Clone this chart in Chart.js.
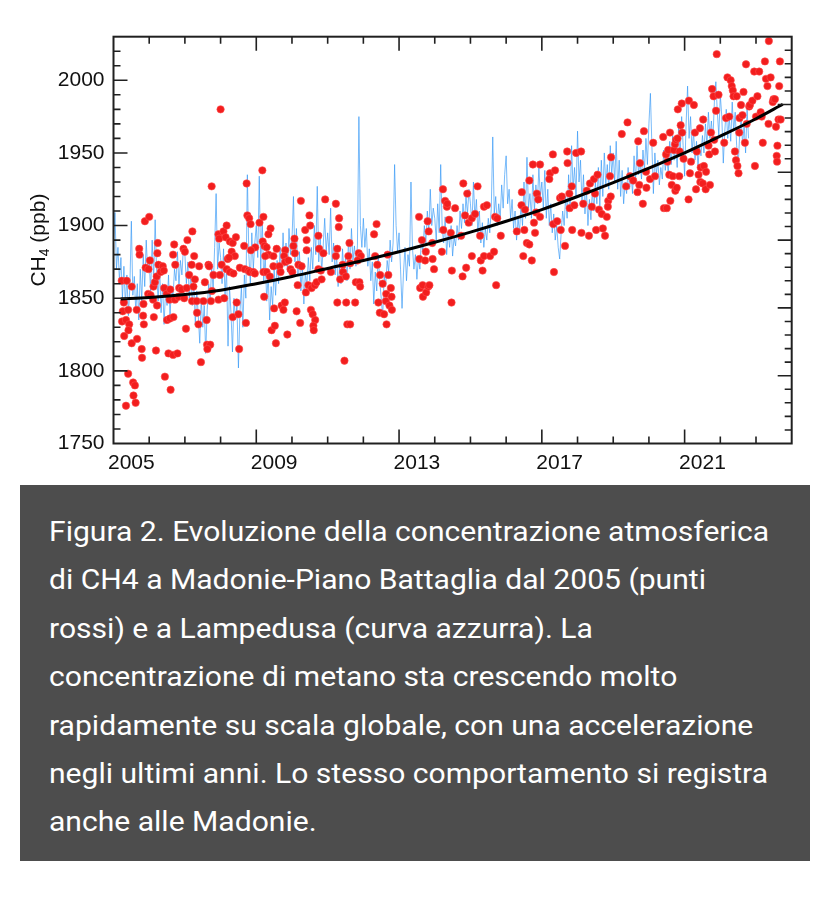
<!DOCTYPE html>
<html lang="it">
<head>
<meta charset="utf-8">
<title>CH4 Madonie - Lampedusa</title>
<script src="https://cdn.jsdelivr.net/npm/chart.js@4.4.1/dist/chart.umd.min.js"></script>
<style>
  html, body { margin: 0; padding: 0; background: #fff; }
  #wrap { position: relative; width: 840px; height: 900px; overflow: hidden; }
  #chartBox { position: absolute; left: 0; top: 0; width: 840px; height: 480px; }
  #caption { position: absolute; left: 20px; top: 485px; width: 790px; height: 376px; background: #4d4d4d; }
  #captionText { position: absolute; left: 29px; top: 23px; color: #fff; font-family: Roboto, "Open Sans", sans-serif;
    font-size: 28px; line-height: 48.4px; white-space: nowrap; transform-origin: 0 0; }
  #captionText div { width: max-content; }
</style>
</head>
<body>
<div id="wrap">
  <div id="chartBox"><canvas id="chart"></canvas></div>
  <div id="caption">
    <div id="captionText">
      <div>Figura 2. Evoluzione della concentrazione atmosferica</div>
      <div>di CH4 a Madonie-Piano Battaglia dal 2005 (punti</div>
      <div>rossi) e a Lampedusa (curva azzurra). La</div>
      <div>concentrazione di metano sta crescendo molto</div>
      <div>rapidamente su scala globale, con una accelerazione</div>
      <div>negli ultimi anni. Lo stesso comportamento si registra</div>
      <div>anche alle Madonie.</div>
    </div>
  </div>
</div>
<script>
// ── Dati ──
const X_MIN = 2005, X_MAX = 2024;
const Y_MIN = 1750, Y_MAX = 2030;
const xLabelYears = [2005, 2009, 2013, 2017, 2021];
const yTickValues = [1750, 1800, 1850, 1900, 1950, 2000];

// Lampedusa (curva azzurra): 24 valori per anno, da gennaio 2005
const lampStart = 2005;
const lampPerYear = 24;
const lampPpb = [
  1888,1909,1870,1885,1862,1878,1850,1872,1845,1866,1838,1858,1903,1852,1865,1840,1860,1835,1870,1848,1880,1858,1890,1868,
  1875,1855,1890,1862,1904,1868,1848,1872,1840,1860,1832,1855,1845,1866,1838,1858,1850,1870,1862,1882,1858,1876,1866,1885,
  1880,1860,1875,1850,1868,1845,1862,1832,1855,1838,1819,1850,1830,1845,1812,1842,1860,1848,1872,1855,1885,1922,1870,1888,
  1878,1860,1884,1852,1870,1817,1858,1840,1813,1850,1835,1845,1802,1840,1858,1830,1866,1850,1935,1880,1860,1895,1870,1888,
  1900,1878,1934,1870,1905,1862,1880,1848,1866,1835,1858,1845,1870,1852,1876,1860,1885,1866,1895,1872,1888,1868,1898,1880,
  1890,1920,1875,1898,1866,1882,1855,1872,1846,1868,1858,1878,1862,1885,1870,1900,1880,1927,1875,1892,1868,1886,1905,1882,
  1895,1880,1912,1875,1888,1866,1880,1858,1872,1860,1884,1866,1878,1862,1890,1870,1898,1876,1886,1872,1886,1975,1900,1885,
  1905,1885,1898,1872,1884,1862,1875,1846,1868,1855,1880,1862,1850,1837,1866,1858,1876,1868,1890,1875,1888,1942,1900,1882,
  1895,1870,1843,1868,1885,1862,1880,1872,1930,1885,1870,1880,1863,1878,1870,1890,1882,1900,1888,1910,1895,1925,1900,1912,
  1905,1890,1915,1895,1942,1898,1888,1906,1880,1895,1885,1900,1879,1892,1886,1900,1890,1910,1898,1915,1902,1920,1908,1925,
  1915,1900,1930,1905,1918,1895,1910,1888,1902,1885,1898,1890,1905,1895,1912,1961,1908,1920,1900,1915,1905,1928,1912,1935,
  1948,1915,1925,1905,1918,1898,1910,1890,1905,1895,1915,1900,1930,1905,1947,1912,1922,1905,1935,1910,1928,1915,1940,1920,
  1930,1912,1938,1905,1925,1900,1915,1895,1908,1890,1900,1885,1877,1895,1910,1900,1920,1905,1935,1912,1955,1925,1940,1920,
  1965,1930,1945,1915,1935,1908,1925,1900,1918,1904,1925,1910,1930,1915,1940,1913,1945,1920,1950,1928,1942,1925,1955,1935,
  1950,1930,1958,1925,1945,1920,1938,1915,1930,1922,1940,1925,1935,1922,1948,1930,1955,1935,1945,1932,1952,1938,1960,1942,
  1970,1991,1955,1922,1950,1935,1945,1928,1940,1932,1952,1938,1948,1935,1958,1942,1962,1945,1955,1940,1968,1950,1975,1955,
  1934,1970,1996,1960,1975,1950,1965,1945,1958,1941,1955,1948,1962,1950,1970,1955,1978,1960,1972,1958,1985,1999,1978,1962,
  1990,1975,1943,1965,1980,1960,1975,1958,1985,1965,1978,1955,1941,1962,1975,1955,1970,1950,1980,1960
];

// Madonie (punti rossi): data decimale e ppb
const madYear = [
  2005.23,2005.37,2005.51,2005.29,2005.26,2005.41,2005.24,2005.35,2005.44,2005.30,2005.42,2005.51,2005.41,2005.55,2005.60,2005.56,
  2005.35,2005.62,2005.65,2005.72,2005.73,2005.66,2005.79,2005.80,2005.83,2005.85,2005.84,2005.90,2005.98,2005.97,2006.04,2006.12,
  2006.16,2006.21,2006.02,2006.23,2006.26,2006.32,2006.38,2006.41,2006.11,2006.22,2006.13,2006.42,2006.49,2006.50,2006.58,2006.68,
  2006.44,2006.60,2006.19,2006.54,2006.67,2006.79,2006.59,2006.57,2006.72,2006.67,2006.73,2006.82,2006.84,2006.91,2006.98,2006.96,
  2007.00,2007.05,2007.03,2007.12,2007.19,2007.26,2007.28,2007.24,2007.20,2007.33,2007.40,2007.34,2007.38,2007.45,2007.52,2007.56,
  2007.61,2007.66,2007.68,2007.73,2007.76,2007.62,2007.71,2007.63,2007.80,2007.94,2007.98,2008.03,2008.10,2008.17,2008.20,2008.26,
  2008.31,2008.34,2008.36,2008.40,2008.45,2008.50,2008.52,2008.54,2008.68,2008.71,2008.78,2008.82,2008.92,2008.96,2008.97,2005.88,
  2006.00,2006.24,2006.70,2007.07,2007.21,2007.75,2007.94,2007.96,2008.00,2008.08,2008.17,2008.14,2008.24,2008.26,2008.34,2008.43,
  2008.66,2008.73,2008.75,2008.80,2008.84,2008.85,2009.09,2009.17,2009.20,2009.18,2009.23,2009.29,2009.34,2009.40,2009.57,2009.34,
  2009.48,2009.81,2009.78,2010.04,2010.07,2010.08,2010.25,2010.37,2010.41,2010.49,2010.51,2010.74,2010.76,2010.88,2010.93,2011.23,
  2011.27,2011.32,2011.31,2011.61,2011.58,2011.87,2011.93,2012.30,2012.37,2012.68,2009.25,2009.20,2009.29,2009.38,2009.22,2009.48,
  2009.65,2009.68,2009.81,2009.90,2009.96,2010.01,2010.18,2010.27,2009.50,2009.43,2009.52,2009.55,2009.71,2009.76,2009.80,2009.87,
  2010.13,2010.16,2010.23,2010.39,2010.46,2010.41,2010.53,2010.58,2010.65,2010.60,2010.61,2010.55,2010.64,2010.69,2010.74,2010.81,
  2010.83,2011.09,2011.23,2011.27,2011.35,2011.42,2011.43,2011.51,2011.52,2011.55,2011.63,2011.47,2011.63,2011.77,2011.79,2011.89,
  2011.91,2011.84,2012.33,2012.39,2012.42,2012.47,2012.46,2012.54,2012.58,2012.64,2012.63,2012.70,2012.73,2012.77,2012.79,2012.80,
  2012.65,2013.57,2013.59,2013.66,2013.67,2013.73,2013.75,2013.76,2013.82,2013.85,2013.94,2013.98,2014.20,2014.48,2014.47,2014.78,
  2014.88,2015.04,2015.29,2015.34,2015.38,2015.55,2015.66,2015.72,2016.48,2016.58,2016.65,2016.72,2013.56,2013.64,2013.80,2013.83,
  2013.93,2014.23,2014.24,2014.29,2014.34,2014.35,2014.40,2014.45,2014.57,2014.74,2014.80,2014.85,2014.91,2014.95,2015.04,2015.13,
  2015.20,2015.27,2015.38,2015.46,2015.69,2015.75,2015.85,2016.30,2016.44,2016.51,2016.43,2016.53,2016.65,2016.75,2016.78,2016.81,
  2016.86,2016.90,2016.95,2016.84,2016.95,2017.23,2017.31,2017.37,2017.21,2017.32,2017.43,2017.53,2017.51,2017.56,2017.65,2017.71,
  2017.72,2017.77,2017.78,2017.84,2017.85,2017.91,2017.96,2018.10,2018.11,2018.16,2018.26,2018.32,2018.35,2018.40,2018.46,2018.49,
  2018.56,2018.52,2018.60,2018.68,2018.71,2018.77,2018.82,2018.86,2018.85,2018.91,2018.93,2018.94,2019.24,2019.36,2019.40,2019.47,
  2019.56,2019.68,2019.73,2019.70,2019.75,2019.83,2019.86,2019.92,2019.93,2020.03,2020.12,2020.17,2020.40,2020.42,2020.48,2020.50,
  2020.54,2020.52,2020.57,2020.59,2020.60,2020.64,2020.67,2020.70,2020.73,2020.74,2020.76,2020.78,2020.80,2020.81,2020.85,2020.86,
  2020.89,2020.92,2020.93,2020.97,2021.11,2021.12,2021.15,2021.18,2021.29,2021.26,2021.32,2021.34,2021.39,2021.43,2021.44,2021.45,
  2021.51,2021.52,2021.54,2021.59,2021.60,2021.67,2021.69,2021.71,2021.74,2021.77,2021.81,2021.83,2021.85,2021.88,2021.90,2021.95,
  2022.11,2022.16,2022.20,2022.25,2022.29,2022.32,2022.35,2022.37,2022.41,2022.44,2022.46,2022.48,2022.51,2022.53,2022.54,2022.58,
  2022.62,2022.65,2022.69,2022.72,2022.74,2022.81,2022.83,2022.90,2022.95,2022.97,2023.00,2023.04,2023.09,2023.13,2023.16,2023.19,
  2023.25,2023.28,2023.32,2023.35,2023.36,2023.41,2023.47,2023.49,2023.53,2023.56,2023.58,2023.59,2023.60,2023.63,2023.65,2023.67,
  2023.69,2017.34
];
const madPpb = [
  1862,1862,1858,1847,1841,1842,1834,1835,1832,1824,1828,1819,1798,1792,1790,1783,
  1776,1778,1842,1884,1880,1822,1815,1809,1838,1832,1846,1871,1870,1853,1852,1858,
  1861,1865,1876,1881,1873,1868,1872,1869,1849,1845,1837,1857,1853,1835,1836,1837,
  1796,1787,1814,1812,1811,1812,1856,1849,1849,1880,1873,1851,1857,1856,1850,1884,
  1882,1857,1829,1866,1873,1879,1863,1858,1848,1848,1872,1840,1832,1806,1848,1861,
  1835,1873,1872,1848,1855,1818,1818,1815,1866,1849,1866,1873,1850,1870,1877,1868,
  1882,1837,1867,1879,1847,1839,1815,1871,1870,1833,1869,1868,1868,1867,1885,1903,
  1906,1888,1887,1890,1896,1927,1894,1891,1980,1896,1900,1892,1878,1889,1888,1892,
  1886,1929,1907,1905,1901,1883,1902,1938,1906,1889,1886,1885,1880,1898,1884,1894,
  1879,1883,1879,1886,1891,1881,1917,1897,1890,1907,1900,1893,1884,1881,1918,1915,
  1884,1905,1899,1888,1879,1881,1879,1894,1901,1880,1879,1868,1868,1865,1851,1872,
  1872,1868,1875,1876,1870,1868,1873,1872,1843,1828,1831,1819,1845,1842,1847,1825,
  1841,1859,1833,1854,1859,1883,1842,1839,1835,1831,1828,1857,1859,1861,1870,1869,
  1863,1868,1879,1847,1863,1873,1868,1865,1847,1832,1832,1807,1874,1847,1861,1861,
  1858,1876,1879,1873,1847,1866,1840,1860,1839,1853,1848,1866,1845,1857,1851,1842,
  1832,1877,1857,1859,1851,1876,1882,1854,1858,1859,1877,1870,1882,1869,1847,1865,
  1871,1879,1876,1869,1879,1879,1882,1859,1879,1888,1887,1876,1906,1890,1903,1896,
  1888,1925,1897,1917,1913,1915,1904,1895,1912,1893,1929,1907,1922,1902,1905,1908,
  1927,1893,1913,1914,1906,1905,1893,1896,1923,1897,1914,1911,1931,1942,1902,1895,
  1922,1918,1942,1909,1906,1936,1949,1938,1932,1901,1903,1897,1919,1920,1886,1951,
  1943,1922,1912,1927,1897,1914,1950,1951,1895,1915,1924,1893,1929,1913,1932,1922,
  1935,1897,1911,1908,1898,1893,1906,1917,1913,1934,1920,1947,1963,1927,1971,1934,
  1931,1923,1928,1958,1943,1915,1965,1937,1926,1932,1957,1934,1961,1912,1949,1912,
  1952,1944,1935,1964,1917,1928,1934,1952,1956,1924,1959,1926,1960,1980,1934,1951,
  1969,1984,1964,1946,1918,1986,1936,1944,1964,1983,1925,1951,1935,1967,1930,1940,
  1929,1973,1941,1925,1937,1955,1949,1928,1964,1994,1989,1959,1951,1979,2018,1990,
  1957,1974,2002,1975,2000,1996,1993,1989,1951,1945,1989,1941,1936,1964,1974,1983,
  1976,1992,1957,2011,1970,1982,1983,1986,2006,1941,1975,1989,2006,1978,1975,1957,
  2013,2001,1996,1970,2027,2002,1985,1987,1987,1968,1948,1944,1955,1973,1996,2013,
  1973,1868
];

// curva nera (andamento medio)
const fitYears = [2005.2, 2006, 2007, 2008, 2009, 2010, 2011, 2012, 2013, 2014, 2015, 2016, 2017, 2018, 2019, 2020, 2021, 2022, 2023, 2023.75];
const fitPpb = [1849.5, 1850.5, 1852.5, 1855.5, 1860, 1865, 1870.5, 1876, 1882, 1888.5, 1895.5, 1903, 1911, 1920, 1929.5, 1939.5, 1950, 1961.5, 1973.5, 1983.5];

const AXIS_FONT = "'Liberation Sans', Arial, sans-serif";

// ── Cornice, tacche interne, titolo asse y ──
const frameTicks = {
  id: "frameTicks",
  afterDatasetsDraw(chart) {
    const { ctx, chartArea: a, scales: { x, y } } = chart;
    ctx.save();
    ctx.strokeStyle = "#202020";
    ctx.lineWidth = 1.6;
    ctx.beginPath();
    for (let yr = X_MIN + 1; yr < X_MAX; yr++) {
      const px = x.getPixelForValue(yr);
      const len = (yr - X_MIN) % 4 === 0 ? 14 : 7;
      ctx.moveTo(px, a.bottom); ctx.lineTo(px, a.bottom - len);
      ctx.moveTo(px, a.top); ctx.lineTo(px, a.top + len);
    }
    for (let v = Y_MIN + 10; v < Y_MAX; v += 10) {
      const py = y.getPixelForValue(v);
      const len = v % 50 === 0 ? 14 : 7;
      ctx.moveTo(a.left, py); ctx.lineTo(a.left + len, py);
    }
    // asse destro: 30 divisioni uguali
    for (let i = 1; i < 30; i++) {
      const py = a.bottom - (a.bottom - a.top) * i / 30;
      const len = i % 5 === 0 ? 14 : 7;
      ctx.moveTo(a.right, py); ctx.lineTo(a.right - len, py);
    }
    ctx.stroke();
    ctx.lineWidth = 2;
    ctx.strokeRect(a.left, a.top, a.right - a.left, a.bottom - a.top);

    // CH4 (ppb)
    ctx.fillStyle = "#111";
    ctx.translate(37.5, (a.top + a.bottom) / 2);
    ctx.rotate(-Math.PI / 2);
    const big = "21px " + AXIS_FONT, small = "14px " + AXIS_FONT;
    ctx.font = big;
    const w1 = ctx.measureText("CH").width, w3 = ctx.measureText(" (ppb)").width;
    ctx.font = small;
    const w2 = ctx.measureText("4").width;
    let cx = -(w1 + w2 + w3) / 2;
    ctx.textBaseline = "alphabetic";
    ctx.font = big; ctx.fillText("CH", cx, 7); cx += w1;
    ctx.font = small; ctx.fillText("4", cx, 11); cx += w2;
    ctx.font = big; ctx.fillText(" (ppb)", cx, 7);
    ctx.restore();
  }
};

new Chart(document.getElementById("chart"), {
  data: {
    datasets: [
      {
        type: "line",
        label: "andamento",
        data: fitYears.map((t, i) => ({ x: t, y: fitPpb[i] })),
        borderColor: "#000",
        borderWidth: 3,
        pointRadius: 0,
        cubicInterpolationMode: "monotone",
        order: 1
      },
      {
        type: "scatter",
        label: "Madonie",
        data: madYear.map((t, i) => ({ x: t, y: madPpb[i] })),
        backgroundColor: "#f21e1e",
        borderColor: "#ff4c4c",
        borderWidth: 0.6,
        pointRadius: 3.7,
        order: 2
      },
      {
        type: "line",
        label: "Lampedusa",
        data: lampPpb.map((v, i) => ({ x: lampStart + i / lampPerYear, y: v })),
        borderColor: "rgba(50,150,245,0.72)",
        borderWidth: 0.9,
        pointRadius: 0,
        tension: 0,
        order: 3
      }
    ]
  },
  options: {
    responsive: true,
    maintainAspectRatio: false,
    animation: false,
    layout: { padding: { top: 36.7, right: 48.3, left: 0, bottom: 0 } },
    plugins: { legend: { display: false }, tooltip: { enabled: false } },
    scales: {
      x: {
        type: "linear", min: X_MIN, max: X_MAX,
        grid: { display: false, drawTicks: false },
        border: { display: false },
        afterBuildTicks: s => { s.ticks = xLabelYears.map(v => ({ value: v + 0.5 })); },
        afterFit: s => { s.height = 36.5; },
        ticks: {
          padding: 7, maxRotation: 0, autoSkip: false, color: "#111",
          font: { family: AXIS_FONT, size: 21 },
          callback: v => String(Math.floor(v))
        }
      },
      y: {
        type: "linear", min: Y_MIN, max: Y_MAX,
        grid: { display: false, drawTicks: false },
        border: { display: false },
        afterBuildTicks: s => { s.ticks = yTickValues.map(v => ({ value: v })); },
        afterFit: s => { s.width = 113.5; },
        ticks: {
          padding: 9, color: "#111",
          font: { family: AXIS_FONT, size: 21 },
          callback: v => String(v)
        }
      }
    }
  },
  plugins: [frameTicks]
});

// didascalia: adatta la larghezza della prima riga
const cap = document.getElementById("captionText");
const first = cap.querySelector("div");
const k = 720 / first.getBoundingClientRect().width;
cap.style.transform = `scaleX(${k})`;
</script>
</body>
</html>
